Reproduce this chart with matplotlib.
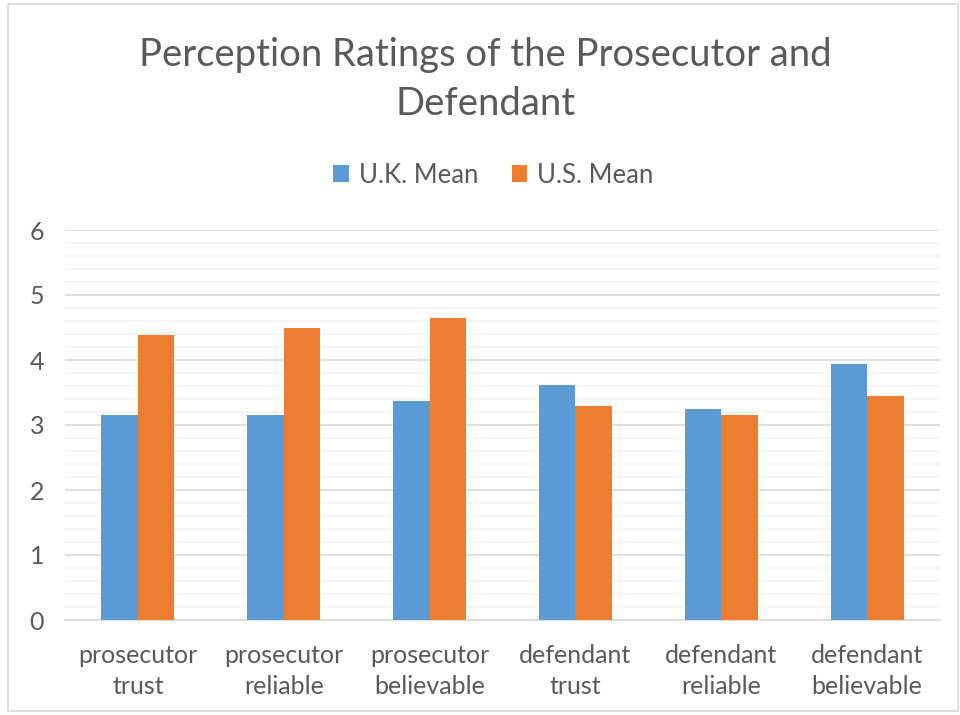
import numpy as np
import matplotlib.pyplot as plt
from matplotlib.patches import Rectangle
from matplotlib.ticker import MultipleLocator

plt.rcParams['font.family'] = ['Lato', 'DejaVu Sans']

categories = ['prosecutor\ntrust', 'prosecutor\nreliable', 'prosecutor\nbelievable',
              'defendant\ntrust', 'defendant\nreliable', 'defendant\nbelievable']
uk_mean = [3.15, 3.15, 3.37, 3.61, 3.24, 3.94]
us_mean = [4.38, 4.50, 4.65, 3.30, 3.16, 3.45]

blue = '#5b9bd5'
orange = '#ed7d31'
grey = '#595959'

fig = plt.figure(figsize=(9.6, 7.15), dpi=100)
fig.patches.append(Rectangle((8/960, 0.005), 0.99, 0.99, transform=fig.transFigure,
                             fill=False, edgecolor='#d9d9d9', linewidth=1.2))

ax = fig.add_axes([65/960, 95/715, 875/960, 390/715])
x = np.arange(len(categories))
w = 0.25
ax.bar(x - w/2, uk_mean, w, color=blue, label='U.K. Mean', zorder=3)
ax.bar(x + w/2, us_mean, w, color=orange, label='U.S. Mean', zorder=3)

ax.set_xlim(-0.5, len(categories) - 0.5)
ax.set_ylim(0, 6)
ax.yaxis.set_major_locator(MultipleLocator(1))
ax.yaxis.set_minor_locator(MultipleLocator(0.2))
ax.grid(axis='y', which='major', color='#d9d9d9', linewidth=1.2, zorder=0)
ax.grid(axis='y', which='minor', color='#f2f2f2', linewidth=1.2, zorder=0)
for s in ['top', 'right', 'left']:
    ax.spines[s].set_visible(False)
ax.spines['bottom'].set_color('#d9d9d9')
ax.spines['bottom'].set_linewidth(1.2)
ax.tick_params(axis='both', which='both', length=0, colors=grey, labelsize=18)
ax.tick_params(axis='y', pad=15)
ax.tick_params(axis='x', pad=17)
ax.set_xticks(x)
ax.set_xticklabels(categories, linespacing=1.45)

fig.text(0.506, 0.889, 'Perception Ratings of the Prosecutor and\nDefendant',
         ha='center', va='center', fontsize=27.5, color=grey, linespacing=1.45)
fig.legend(loc='center', bbox_to_anchor=(0.514, 0.755), ncol=2, frameon=False,
           fontsize=18.5, labelcolor=grey, handlelength=0.6, handleheight=0.6,
           columnspacing=1.3, handletextpad=0.4)

fig.savefig('out.png', dpi=100)
